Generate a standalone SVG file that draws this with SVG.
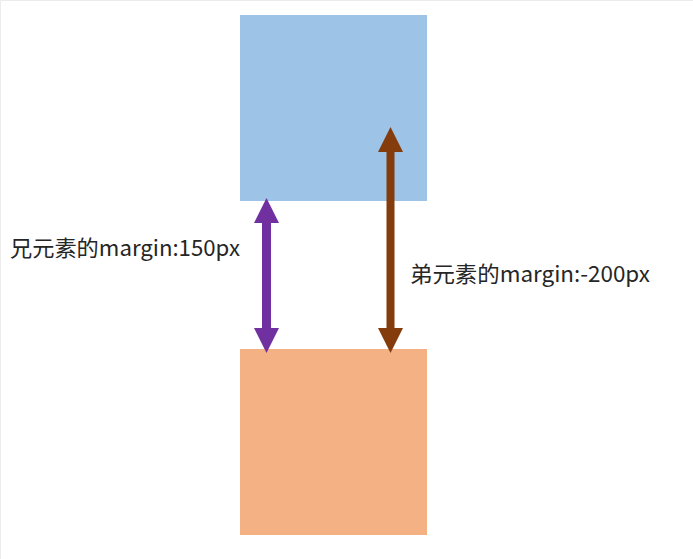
<svg xmlns="http://www.w3.org/2000/svg" width="693" height="559" viewBox="0 0 693 559">
<style>
.lbl{font-family:"Noto Sans CJK SC","Liberation Sans",sans-serif;font-size:22px;fill:#262626}
</style>
<rect width="693" height="559" fill="#ffffff"/>
<path d="M0.5,559 V0.5 H693" fill="none" stroke="#ececec" stroke-width="1"/>
<g id="elder">
<rect x="240" y="15" width="187" height="186" fill="#9DC3E6"/>
</g>
<g id="younger">
<rect x="240" y="349" width="187" height="186" fill="#F4B183"/>
</g>
<g id="connectors">
<path id="margin150" d="M266.5,198 L279,223 L271,223 L271,328 L279,328 L266.5,353 L254,328 L262,328 L262,223 L254,223 Z" fill="#7030A0"/>
<path id="margin-200" d="M390.5,127 L403,152 L394.5,152 L394.5,328 L403,328 L390.5,353 L378,328 L386.5,328 L386.5,152 L378,152 Z" fill="#843C0C"/>
</g>
<g id="label-left">
<text class="lbl" x="10" y="256" textLength="230" lengthAdjust="spacingAndGlyphs">兄元素的margin:150px</text>
</g>
<g id="label-right">
<text class="lbl" x="410" y="282" textLength="240" lengthAdjust="spacingAndGlyphs">弟元素的margin:-200px</text>
</g>
</svg>
